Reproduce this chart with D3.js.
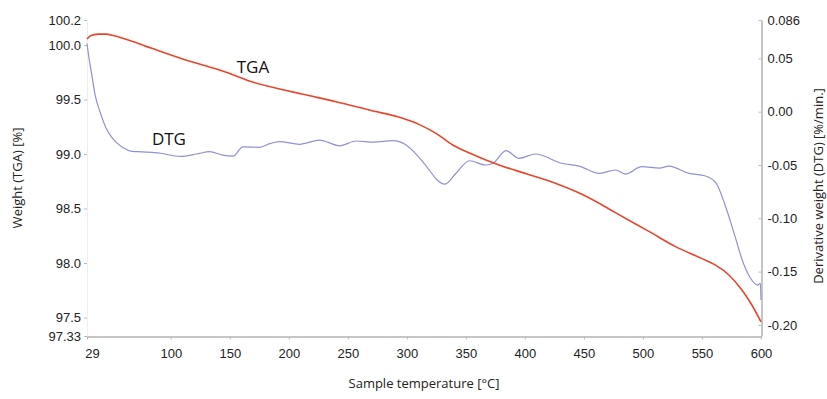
<!DOCTYPE html>
<html>
<head>
<meta charset="utf-8">
<script src="https://cdn.jsdelivr.net/npm/d3@7"></script>
<style>
  body { margin: 0; background: #fff; }
  svg { display: block; font-family: "Open Sans", sans-serif; }
</style>
</head>
<body>
<svg id="chart"></svg>
<script>
// TGA weight curve (left axis, %)
const tgaTemp = [29, 32, 38.6, 45, 52, 64, 84, 112, 140, 151, 168, 196, 212, 240, 268, 296.5,
  310.6, 324.7, 338.8, 353, 378, 392, 420.6, 448.7, 462.8, 477, 505, 527.6, 550, 561.5, 572.8, 584, 592.5, 600];
const tgaWeight = [100.056, 100.085, 100.10, 100.10, 100.085, 100.047, 99.97, 99.866, 99.775, 99.735, 99.665, 99.588, 99.548, 99.48, 99.404, 99.328,
  99.27, 99.19, 99.083, 99.01, 98.90, 98.85, 98.752, 98.628, 98.548, 98.46, 98.29, 98.15, 98.04, 97.98, 97.89, 97.75, 97.61, 97.46];

// DTG derivative curve (right axis, %/min.)
const dtgTemp = [29, 31, 33, 35.8, 40, 45, 50, 55, 60, 66, 72, 80, 91, 108, 122, 133, 144, 153, 161, 175,
  184, 192, 209, 226, 243, 257, 272, 288, 299, 311, 319, 325, 332, 341.6, 353, 367, 373, 384, 395, 409,
  431, 446, 463, 477, 485, 499, 514, 522, 539, 553, 562, 570, 578, 585, 591, 597, 599.5, 600];
const dtgValue = [0.064, 0.048, 0.035, 0.016, 0.0, -0.015, -0.024, -0.030, -0.034, -0.037, -0.0375, -0.038, -0.039, -0.042, -0.0397, -0.0375, -0.0407, -0.0416, -0.033, -0.0334,
  -0.030, -0.028, -0.0306, -0.0266, -0.032, -0.0275, -0.0285, -0.0272, -0.031, -0.0437, -0.0547, -0.0634, -0.068, -0.0578, -0.046, -0.050, -0.0484, -0.0366, -0.0437, -0.0397,
  -0.0484, -0.051, -0.0578, -0.0547, -0.0585, -0.0516, -0.053, -0.051, -0.0578, -0.0603, -0.067, -0.089, -0.117, -0.142, -0.156, -0.1626, -0.161, -0.1767];

const xTicks = [29, 100, 150, 200, 250, 300, 350, 400, 450, 500, 550, 600];
const leftTicks = [97.33, 97.5, 98.0, 98.5, 99.0, 99.5, 100.0, 100.23];
const leftTickLabels = ["97.33", "97.5", "98.0", "98.5", "99.0", "99.5", "100.0", "100.2"];
const rightTicks = [-0.20, -0.15, -0.10, -0.05, 0.00, 0.05, 0.086];
const rightTickLabels = ["-0.20", "-0.15", "-0.10", "-0.05", "0.00", "0.05", "0.086"];

const width = 827;
const height = 399;
const margin = { top: 20, right: 66, bottom: 63, left: 87 };

const svg = d3.select("#chart")
    .attr("width", width)
    .attr("height", height);

const x = d3.scaleLinear()
    .domain([29, 600])
    .range([margin.left, width - margin.right]);

const yLeft = d3.scaleLinear()
    .domain([97.33, 100.23])
    .range([height - margin.bottom, margin.top]);

const yRight = d3.scaleLinear()
    .domain([-0.2104, 0.086])
    .range([height - margin.bottom, margin.top]);

// faint left axis line
svg.append("line")
    .attr("x1", margin.left + 0.5).attr("x2", margin.left + 0.5)
    .attr("y1", margin.top).attr("y2", height - margin.bottom)
    .attr("stroke", "#eeeeee");

// bottom axis
const xAxis = svg.append("g")
    .attr("transform", `translate(0, ${height - margin.bottom + 0.5})`)
    .call(d3.axisBottom(x).tickValues(xTicks).tickSize(3).tickSizeOuter(0).tickFormat(d3.format("d")));
xAxis.select(".domain").attr("stroke", "#8c8c8c");
xAxis.selectAll(".tick line").attr("stroke", "#bbbbbb");
xAxis.selectAll("text")
    .attr("font-size", "13px")
    .attr("fill", "#222")
    .attr("dy", "1.2em")
    .attr("dx", d => d === 29 ? 5 : 0);

// left axis
const leftAxis = svg.append("g")
    .attr("transform", `translate(${margin.left}, 0)`)
    .call(d3.axisLeft(yLeft).tickValues(leftTicks).tickSize(3)
        .tickFormat((d, i) => leftTickLabels[i]));
leftAxis.select(".domain").remove();
leftAxis.selectAll(".tick line").attr("stroke", "#bbbbbb");
leftAxis.selectAll("text")
    .attr("font-size", "13px")
    .attr("fill", "#222")
    .attr("x", -6);

// right axis
const rightAxis = svg.append("g")
    .attr("transform", `translate(${width - margin.right + 0.5}, 0)`)
    .call(d3.axisRight(yRight).tickValues(rightTicks).tickSize(-3).tickSizeOuter(0)
        .tickFormat((d, i) => rightTickLabels[i]));
rightAxis.select(".domain").attr("stroke", "#8c8c8c");
rightAxis.selectAll(".tick line").attr("stroke", "#bbbbbb");
rightAxis.selectAll("text")
    .attr("font-size", "13px")
    .attr("fill", "#222")
    .attr("x", 6);

// curves
const tgaData = tgaTemp.map((t, i) => ({ t, v: tgaWeight[i] }));
const dtgData = dtgTemp.map((t, i) => ({ t, v: dtgValue[i] }));

svg.append("path")
    .datum(dtgData)
    .attr("fill", "none")
    .attr("stroke", "#8e91d3")
    .attr("stroke-width", 1.2)
    .attr("d", d3.line().x(d => x(d.t)).y(d => yRight(d.v)).curve(d3.curveMonotoneX));

svg.append("path")
    .datum(tgaData)
    .attr("fill", "none")
    .attr("stroke", "#e8452c")
    .attr("stroke-width", 1.6)
    .attr("d", d3.line().x(d => x(d.t)).y(d => yLeft(d.v)).curve(d3.curveMonotoneX));

// curve labels
svg.append("text")
    .attr("x", x(155.8)).attr("y", yLeft(99.744))
    .attr("font-size", "17px").attr("fill", "#111")
    .text("TGA");

svg.append("text")
    .attr("x", x(84)).attr("y", yRight(-0.0313))
    .attr("font-size", "17px").attr("fill", "#111")
    .text("DTG");

// axis titles
svg.append("text")
    .attr("transform", `translate(22, ${(margin.top + height - margin.bottom) / 2}) rotate(-90)`)
    .attr("text-anchor", "middle")
    .attr("font-size", "13px").attr("fill", "#222")
    .text("Weight (TGA) [%]");

svg.append("text")
    .attr("transform", `translate(823, 186) rotate(-90)`)
    .attr("text-anchor", "middle")
    .attr("font-size", "13px").attr("fill", "#222")
    .text("Derivative weight (DTG) [%/min.]");

svg.append("text")
    .attr("x", (margin.left + width - margin.right) / 2)
    .attr("y", 388)
    .attr("text-anchor", "middle")
    .attr("font-size", "13px").attr("fill", "#222")
    .text("Sample temperature [°C]");
</script>
</body>
</html>
